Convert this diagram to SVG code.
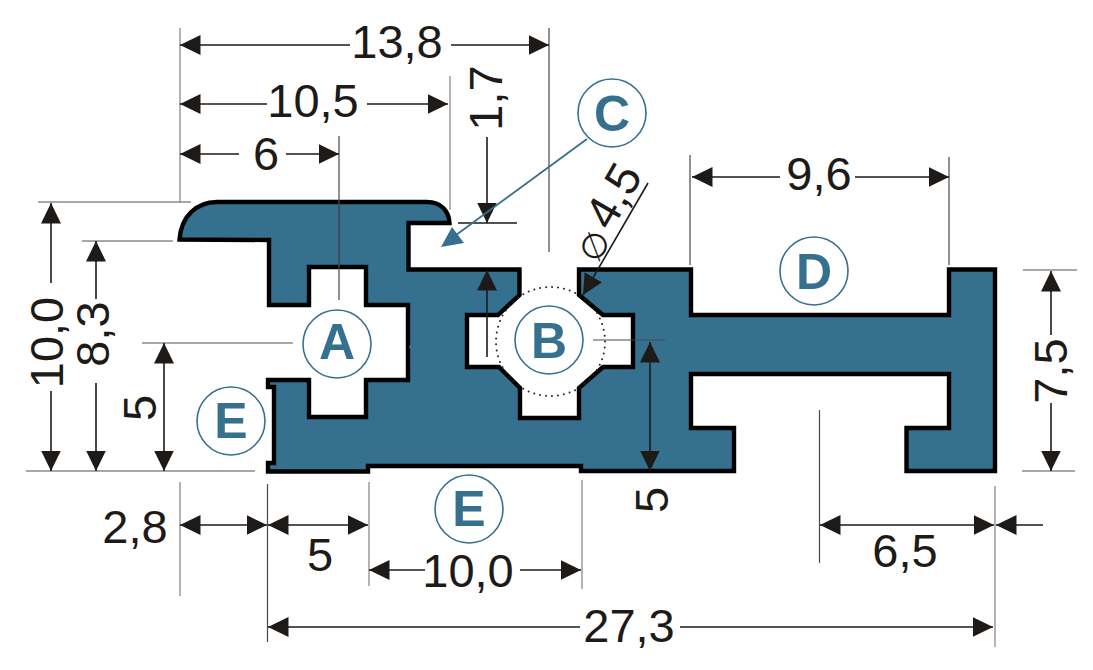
<svg xmlns="http://www.w3.org/2000/svg" width="1093" height="670" viewBox="0 0 1093 670">
<style>
.ext{fill:none;stroke:#8c8c8c;stroke-width:1.3}
.extd{fill:none;stroke:#4a4a4a;stroke-width:1.2}
.dim{fill:none;stroke:#1d1a18;stroke-width:1.6}
.t{font-family:"Liberation Sans",Arial,sans-serif;font-size:47px;fill:#1d1a18;text-anchor:middle}
.c{fill:#fff;stroke:#35708f;stroke-width:1.6}
.l{font-family:"Liberation Sans",Arial,sans-serif;font-size:50px;font-weight:700;fill:#35708f;text-anchor:middle}
</style>
<defs>
<marker id="ah" markerUnits="userSpaceOnUse" markerWidth="21" markerHeight="21" viewBox="0 0 21 21" refX="20.5" refY="10.5" orient="auto-start-reverse"><path d="M0 .5L20.5 10.5L0 20.5z" fill="#1d1a18"/></marker>
</defs>
<rect width="1093" height="670" fill="#fff"/>
<g id="profile">
<path fill="#35708f" stroke="#000" stroke-width="4.400" stroke-linejoin="miter" d="M179.500 239.500C181 217 196 202 217 202H427C441 202 449 211 449.500 223H408.500V269.500H519.500V295L498 315H467V367H499L520 388V418H579V388L603 367H633V315H603L579 295V269.500H691V315H949V269.500H995V471H906.500V428H949V374H691V428H734V471H581V466H368V471.500H268V463H274V387H268V380H309V417H366V380H408V305H366V267H309V305H269V240Z"/>
<circle cx="411" cy="347" r="2" fill="#35708f"/>
<path d="M339 203V267" fill="none" stroke="#1d4a60" stroke-width="1.2"/>
<circle cx="550.500" cy="341.500" r="54.500" fill="none" stroke="#222" stroke-width="2" stroke-linecap="round" stroke-dasharray="0 6"/>
</g>
<g id="connectors">
<path class="ext" d="M180 28V203M38 202H191M82 241H173M142 343H293M26 471H255M180 482V596M369 482V586M582 480V589M995 486V647M450 76V210M1023 270H1077M1022 471H1075"/>
<path class="extd" d="M339 136V300M549 28V252M690 155V265M949 157V265M267.500 484V642M819.500 410V563M593 340H665"/>
<path class="dim" d="M350 45H180" marker-end="url(#ah)"/>
<path class="dim" d="M451 45H549" marker-end="url(#ah)"/>
<path class="dim" d="M267 104H180" marker-end="url(#ah)"/>
<path class="dim" d="M367 104H448" marker-end="url(#ah)"/>
<path class="dim" d="M239 154H180" marker-end="url(#ah)"/>
<path class="dim" d="M286 154H339" marker-end="url(#ah)"/>
<path class="dim" d="M487 137V223" marker-end="url(#ah)"/>
<path d="M458 223H517" fill="none" stroke="#1d1a18" stroke-width="1.4"/>
<path class="dim" d="M487 357V270" marker-end="url(#ah)"/>
<path class="dim" d="M780 177H692" marker-end="url(#ah)"/>
<path class="dim" d="M855 177H949" marker-end="url(#ah)"/>
<path class="dim" d="M648 183L583 295" marker-end="url(#ah)"/>
<path class="dim" d="M51 283V203" marker-end="url(#ah)"/>
<path class="dim" d="M51 391V471" marker-end="url(#ah)"/>
<path class="dim" d="M96 299V241" marker-end="url(#ah)"/>
<path class="dim" d="M96 383V471" marker-end="url(#ah)"/>
<path class="dim" d="M164 343V471" marker-start="url(#ah)" marker-end="url(#ah)"/>
<path class="dim" d="M650 342V471" marker-start="url(#ah)" marker-end="url(#ah)"/>
<path class="dim" d="M1051 335V271" marker-end="url(#ah)"/>
<path class="dim" d="M1051 403V471" marker-end="url(#ah)"/>
<path class="dim" d="M180 525H267" marker-start="url(#ah)" marker-end="url(#ah)"/>
<path class="dim" d="M268 525H368" marker-start="url(#ah)" marker-end="url(#ah)"/>
<path class="dim" d="M425 570H369" marker-end="url(#ah)"/>
<path class="dim" d="M520 570H581" marker-end="url(#ah)"/>
<path class="dim" d="M820 525H994" marker-start="url(#ah)" marker-end="url(#ah)"/>
<path class="dim" d="M1043 525H996" marker-end="url(#ah)"/>
<path class="dim" d="M580 627H268" marker-end="url(#ah)"/>
<path class="dim" d="M680 627H993" marker-end="url(#ah)"/>
<path d="M587 139L452 238" fill="none" stroke="#35708f" stroke-width="1.800"/>
<path d="M441 247L452 227L464 243z" fill="#35708f"/>
</g>
<g id="dimension-labels">
<text class="t" x="397" y="58">13,8</text>
<text class="t" x="313" y="117">10,5</text>
<text class="t" x="266" y="170">6</text>
<text class="t" transform="translate(502 98) rotate(-90)">1,7</text>
<text class="t" x="819" y="190">9,6</text>
<text class="t" transform="translate(63 342.500) rotate(-90)">10,0</text>
<text class="t" transform="translate(109 334) rotate(-90)">8,3</text>
<text class="t" transform="translate(156 408) rotate(-90)">5</text>
<text class="t" transform="translate(668 500) rotate(-90)">5</text>
<text class="t" transform="translate(1067 371) rotate(-90)">7,5</text>
<text class="t" x="135" y="543">2,8</text>
<text class="t" x="320" y="571">5</text>
<text class="t" x="468" y="587">10,0</text>
<text class="t" x="905" y="567">6,5</text>
<text class="t" x="629" y="642">27,3</text>
<text class="t" style="text-anchor:start" transform="translate(611 232) rotate(-60)">4,5</text>
<text transform="translate(605 252) rotate(-60)" style="font-family:'DejaVu Sans',sans-serif;font-size:34px;fill:#1d1a18;text-anchor:middle">∅</text>
</g>
<g id="node-A"><circle class="c" cx="337" cy="344" r="34"/><text class="l" x="337" y="359">A</text></g>
<g id="node-B"><circle class="c" cx="549" cy="340" r="34"/><text class="l" x="549" y="358">B</text></g>
<g id="node-C"><circle class="c" cx="612" cy="113" r="34"/><text class="l" x="612" y="131">C</text></g>
<g id="node-D"><circle class="c" cx="814" cy="271" r="34"/><text class="l" x="814" y="289">D</text></g>
<g id="node-E1"><circle class="c" cx="231" cy="421" r="34"/><text class="l" x="231" y="438">E</text></g>
<g id="node-E2"><circle class="c" cx="469" cy="509" r="34"/><text class="l" x="469" y="526">E</text></g>
</svg>
